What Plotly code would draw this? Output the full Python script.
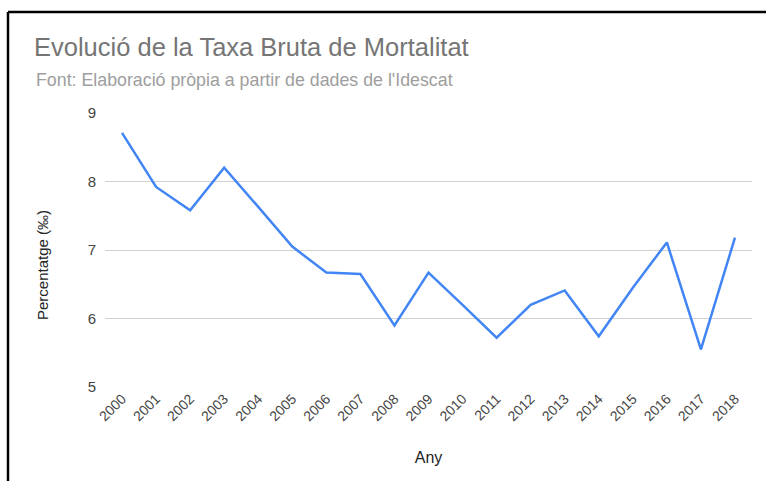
import plotly.graph_objects as go

years = ["2000", "2001", "2002", "2003", "2004", "2005", "2006", "2007", "2008", "2009",
         "2010", "2011", "2012", "2013", "2014", "2015", "2016", "2017", "2018"]
taxa = [8.71, 7.92, 7.58, 8.20, 7.63, 7.05, 6.67, 6.65, 5.90, 6.67,
        6.20, 5.72, 6.20, 6.41, 5.74, 6.45, 7.11, 5.55, 7.18]
y_ticks = [5, 6, 7, 8, 9]

W, H = 766, 481
L, R, T, B = 105, 14, 113, 94
pw, ph = W - L - R, H - T - B

def px(x):
    return (x - L) / pw

def py(y):
    return (H - B - y) / ph

FONT = "Liberation Sans, Arial, sans-serif"

fig = go.Figure()
fig.add_trace(go.Scatter(
    x=years, y=taxa, mode="lines",
    line=dict(color="#4285F4", width=2.5),
    hoverinfo="x+y", showlegend=False,
))

fig.update_layout(
    width=W, height=H,
    margin=dict(l=L, r=R, t=T, b=B),
    paper_bgcolor="white", plot_bgcolor="white",
    font=dict(family=FONT, color="#444444", size=13),
    title=dict(
        text="Evolució de la Taxa Bruta de Mortalitat",
        font=dict(family=FONT, size=25.5, color="#757575"),
        xref="container", yref="container",
        x=34 / W, xanchor="left",
        y=1 - 47 / H, yanchor="middle",
    ),
    xaxis=dict(
        type="category", range=[-0.5, len(years) - 0.5],
        showgrid=False, showline=False, zeroline=False,
        tickangle=-45, tickfont=dict(size=14, color="#444444"),
        ticks="", ticklen=0,
        title=dict(text="Any", font=dict(size=16, color="#222222"), standoff=28),
    ),
    yaxis=dict(
        range=[5, 9], tickvals=y_ticks, ticktext=[str(v) for v in y_ticks],
        showgrid=True, gridcolor="#d0d0d0", gridwidth=1,
        zeroline=False, showline=False,
        tickfont=dict(size=15, color="#444444"),
        ticks="", ticklabelstandoff=8,
    ),
    annotations=[
        dict(
            text="Font: Elaboració pròpia a partir de dades de l'Idescat",
            xref="paper", yref="paper", x=px(34), y=py(80),
            xanchor="left", yanchor="middle", showarrow=False,
            font=dict(family=FONT, size=17.8, color="#9e9e9e"),
        ),
        dict(
            text="Percentatge (‰)",
            xref="paper", yref="paper", x=px(42), y=py(265),
            xanchor="center", yanchor="middle", textangle=-90, showarrow=False,
            font=dict(family=FONT, size=15, color="#222222"),
        ),
    ],
    shapes=[
        dict(type="line", xref="paper", yref="paper",
             x0=px(8), x1=px(W + 5), y0=py(12), y1=py(12),
             line=dict(color="black", width=2.5)),
        dict(type="line", xref="paper", yref="paper",
             x0=px(8), x1=px(8), y0=py(12), y1=py(H + 5),
             line=dict(color="black", width=2.5)),
    ],
)

fig.write_html("out.html", config={"displayModeBar": False},
               post_script="document.body.style.margin='0';")
